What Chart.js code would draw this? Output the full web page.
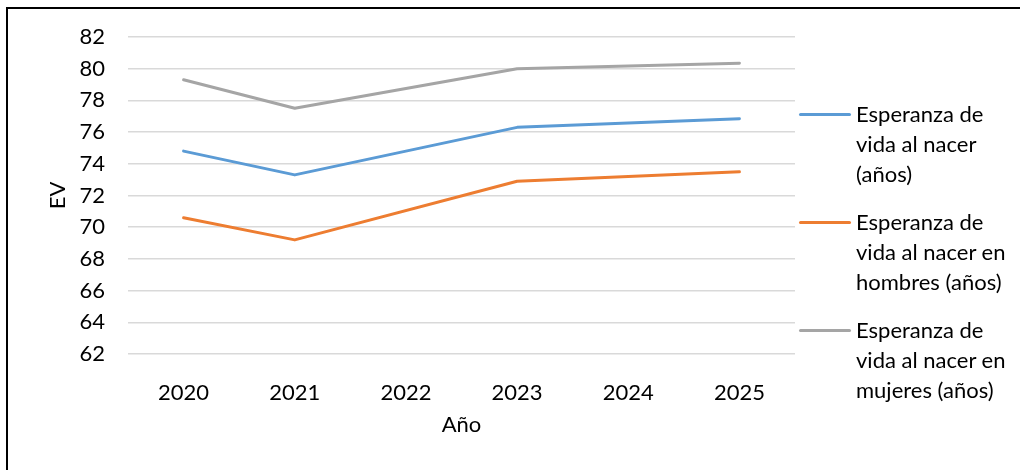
<!DOCTYPE html>
<html lang="es">
<head>
<meta charset="utf-8">
<title>Esperanza de vida al nacer</title>
<script src="https://cdn.jsdelivr.net/npm/chart.js@4/dist/chart.umd.min.js"></script>
<style>
  html, body { margin: 0; padding: 0; background: #fff; }
  #lienzo { position: relative; width: 1020px; height: 470px; overflow: hidden; }
  #marco {
    position: absolute; left: 6px; top: 7px; width: 2000px; height: 2000px;
    border-left: 2px solid #000; border-top: 2px solid #000; pointer-events: none;
  }
  canvas { position: absolute; left: 0; top: 0; }
  .leyenda-item { position: absolute; left: 799px; }
  .leyenda-linea { position: absolute; left: 0; top: 13.5px; width: 52px; height: 3px; border-radius: 2px; }
  .leyenda-texto {
    position: absolute; left: 57px; top: 0; white-space: nowrap;
    font-family: Lato, sans-serif; font-size: 22px; line-height: 30px; color: #000;
  }
</style>
</head>
<body>
<div id="lienzo">
  <canvas id="grafico" width="1020" height="470"></canvas>
  <div id="marco"></div>
  <div id="leyenda"></div>
</div>
<script>
// años del eje X
const anios = ['2020', '2021', '2022', '2023', '2024', '2025'];

// valores por serie (null = sin dato, la línea los une)
const evTotal   = [74.8, 73.3, null, 76.3, null, 76.85];
const evHombres = [70.6, 69.2, null, 72.9, null, 73.5];
const evMujeres = [79.3, 77.5, null, 80.0, null, 80.35];

// nombres de las series, partidos en renglones para la leyenda
const nombresSeries = [
    ['Esperanza de', 'vida al nacer', '(años)'],
    ['Esperanza de', 'vida al nacer en', 'hombres (años)'],
    ['Esperanza de', 'vida al nacer en', 'mujeres (años)']
];

// ticks del eje Y
const ejeYMin = 62;
const ejeYMax = 82;
const ejeYPaso = 2;

const colores = ['#5B9BD5', '#ED7D31', '#A5A5A5'];
const fuente = 'Lato, sans-serif';

const series = [evTotal, evHombres, evMujeres];

const ctx = document.getElementById('grafico');

const grafico = new Chart(ctx, {
    type: 'line',
    data: {
        labels: anios,
        datasets: series.map((valores, i) => ({
            label: nombresSeries[i].join(' '),
            data: valores,
            borderColor: colores[i],
            backgroundColor: colores[i],
            borderWidth: 3,
            borderCapStyle: 'round',
            borderJoinStyle: 'round',
            pointRadius: 0,
            tension: 0,
            spanGaps: true
        }))
    },
    options: {
        responsive: false,
        animation: false,
        layout: { padding: { left: 0, top: 37, right: 225, bottom: 26 } },
        plugins: {
            legend: { display: false },
            tooltip: { enabled: false }
        },
        scales: {
            x: {
                offset: true,
                grid: { display: false },
                border: { display: false },
                ticks: {
                    color: '#000',
                    padding: 18,
                    font: { family: fuente, size: 22 }
                },
                title: {
                    display: true,
                    text: 'Año',
                    color: '#000',
                    padding: { top: 0, bottom: 6 },
                    font: { family: fuente, size: 22 }
                },
                afterFit: (escala) => { escala.height = 90; }
            },
            y: {
                min: ejeYMin,
                max: ejeYMax,
                grid: { color: '#D9D9D9', lineWidth: 1.5, drawTicks: false },
                border: { display: false },
                ticks: {
                    stepSize: ejeYPaso,
                    color: '#000',
                    padding: 23,
                    font: { family: fuente, size: 22 }
                },
                title: {
                    display: true,
                    text: 'EV',
                    color: '#000',
                    padding: { top: 45, bottom: 0 },
                    font: { family: fuente, size: 22 }
                },
                afterFit: (escala) => { escala.width = 128; }
            }
        }
    }
});

// leyenda a la derecha, construida a partir de los datasets
const leyenda = document.getElementById('leyenda');
grafico.data.datasets.forEach((ds, i) => {
    const item = document.createElement('div');
    item.className = 'leyenda-item';
    item.style.top = (99 + i * 108) + 'px';

    const linea = document.createElement('div');
    linea.className = 'leyenda-linea';
    linea.style.background = ds.borderColor;

    const texto = document.createElement('div');
    texto.className = 'leyenda-texto';
    texto.innerHTML = nombresSeries[i].join('<br>');

    item.appendChild(linea);
    item.appendChild(texto);
    leyenda.appendChild(item);
});
</script>
</body>
</html>
